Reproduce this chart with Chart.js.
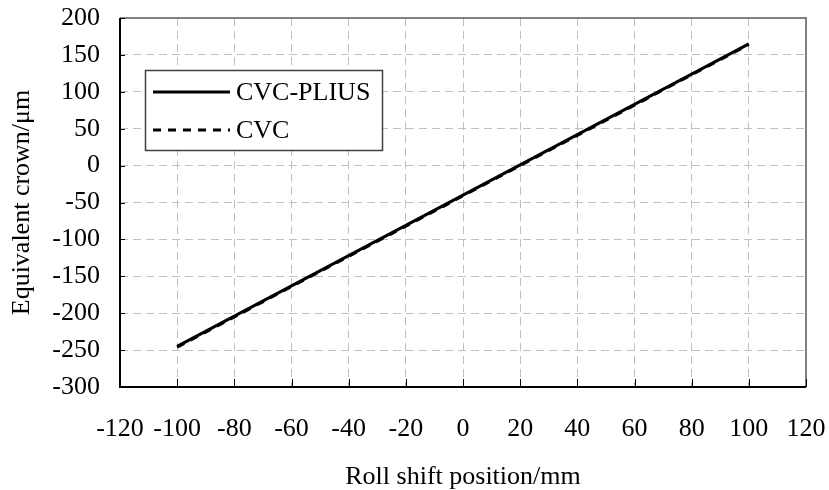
<!DOCTYPE html>
<html>
<head>
<meta charset="utf-8">
<script src="https://cdn.jsdelivr.net/npm/chart.js@4/dist/chart.umd.min.js"></script>
<style>
  html, body { margin: 0; padding: 0; background: #fff; }
  #wrap { width: 829px; height: 490px; }
</style>
</head>
<body>
<div id="wrap"><canvas id="chart" width="829" height="490"></canvas></div>
<script>
  const shiftPositions = [-100, -80, -60, -40, -20, 0, 20, 40, 60, 80, 100];
  const crownPlius = [-245, -204, -163, -122, -81, -40, 1, 42, 83, 124, 165];
  const crownCvc = [-246, -205, -164, -123, -82, -41, 0, 41, 82, 123, 164];
  const seriesNames = ['CVC-PLIUS', 'CVC'];

  const FONT = 'Liberation Serif, Times New Roman, serif';

  function toPoints(values) {
    return shiftPositions.map((x, i) => ({ x, y: values[i] }));
  }

  // frame, inner tick marks and the boxed legend
  const framePlugin = {
    id: 'frame',
    afterDraw(chart) {
      const { ctx, chartArea: a, scales } = chart;
      ctx.save();
      ctx.lineWidth = 2;
      ctx.strokeStyle = '#808080';
      ctx.beginPath();
      ctx.moveTo(a.left, a.top);
      ctx.lineTo(a.right, a.top);
      ctx.lineTo(a.right, a.bottom);
      ctx.stroke();
      ctx.strokeStyle = '#000';
      ctx.beginPath();
      ctx.moveTo(a.left, a.top);
      ctx.lineTo(a.left, a.bottom);
      ctx.lineTo(a.right, a.bottom);
      ctx.stroke();

      ctx.lineWidth = 1;
      ctx.beginPath();
      scales.x.ticks.forEach((t) => {
        const px = Math.round(scales.x.getPixelForValue(t.value)) + 0.5;
        ctx.moveTo(px, a.bottom);
        ctx.lineTo(px, a.bottom - 8);
      });
      scales.y.ticks.forEach((t) => {
        const py = Math.round(scales.y.getPixelForValue(t.value)) + 0.5;
        ctx.moveTo(a.left, py);
        ctx.lineTo(a.left + 5, py);
      });
      ctx.stroke();

      // legend box
      const bx = 145.5, by = 70.5, bw = 237, bh = 80;
      ctx.fillStyle = '#fff';
      ctx.fillRect(bx, by, bw, bh);
      ctx.strokeStyle = '#404040';
      ctx.lineWidth = 1.5;
      ctx.strokeRect(bx, by, bw, bh);
      ctx.font = '26px ' + FONT;
      ctx.textBaseline = 'middle';
      ctx.textAlign = 'left';
      chart.data.datasets.forEach((ds, i) => {
        const cy = 92 + i * 38;
        ctx.strokeStyle = ds.borderColor;
        ctx.lineWidth = 3;
        ctx.setLineDash(ds.borderDash || []);
        ctx.beginPath();
        ctx.moveTo(153, cy);
        ctx.lineTo(230, cy);
        ctx.stroke();
        ctx.setLineDash([]);
        ctx.fillStyle = '#000';
        ctx.fillText(ds.label, 236, cy + 1);
      });
      ctx.restore();
    },
  };

  new Chart(document.getElementById('chart'), {
    type: 'line',
    data: {
      datasets: [
        {
          label: seriesNames[0],
          data: toPoints(crownPlius),
          borderColor: '#000',
          borderWidth: 3,
          pointRadius: 0,
          tension: 0,
          order: 0,
        },
        {
          label: seriesNames[1],
          data: toPoints(crownCvc),
          borderColor: '#000',
          borderWidth: 3,
          borderDash: [8, 7],
          pointRadius: 0,
          tension: 0,
          order: 1,
        },
      ],
    },
    options: {
      responsive: false,
      animation: false,
      events: [],
      layout: { padding: { top: 18, right: 23, left: 0, bottom: 0 } },
      plugins: { legend: { display: false }, tooltip: { enabled: false } },
      scales: {
        x: {
          type: 'linear',
          min: -120,
          max: 120,
          afterFit(scale) {
            scale.height = 103;
            scale.paddingLeft = 0;
            scale.paddingRight = 0;
          },
          ticks: { stepSize: 20, color: '#000', font: { family: FONT, size: 26 }, padding: 27, maxRotation: 0 },
          grid: { color: '#c0c0c0', lineWidth: 1, drawTicks: false },
          border: { display: false, dash: [8, 5] },
          title: { display: true, text: 'Roll shift position/mm', color: '#000', font: { family: FONT, size: 26 }, padding: { top: 0, bottom: -3 } },
        },
        y: {
          min: -300,
          max: 200,
          afterFit(scale) {
            scale.width = 120;
            scale.paddingTop = 0;
            scale.paddingBottom = 0;
          },
          ticks: { stepSize: 50, color: '#000', font: { family: FONT, size: 26 }, padding: 20 },
          grid: { color: '#c0c0c0', lineWidth: 1, drawTicks: false },
          border: { display: false, dash: [8, 5] },
          title: { display: true, text: 'Equivalent crown/μm', color: '#000', font: { family: FONT, size: 26 }, padding: { top: 7, bottom: 0 } },
        },
      },
    },
    plugins: [framePlugin],
  });
</script>
</body>
</html>
